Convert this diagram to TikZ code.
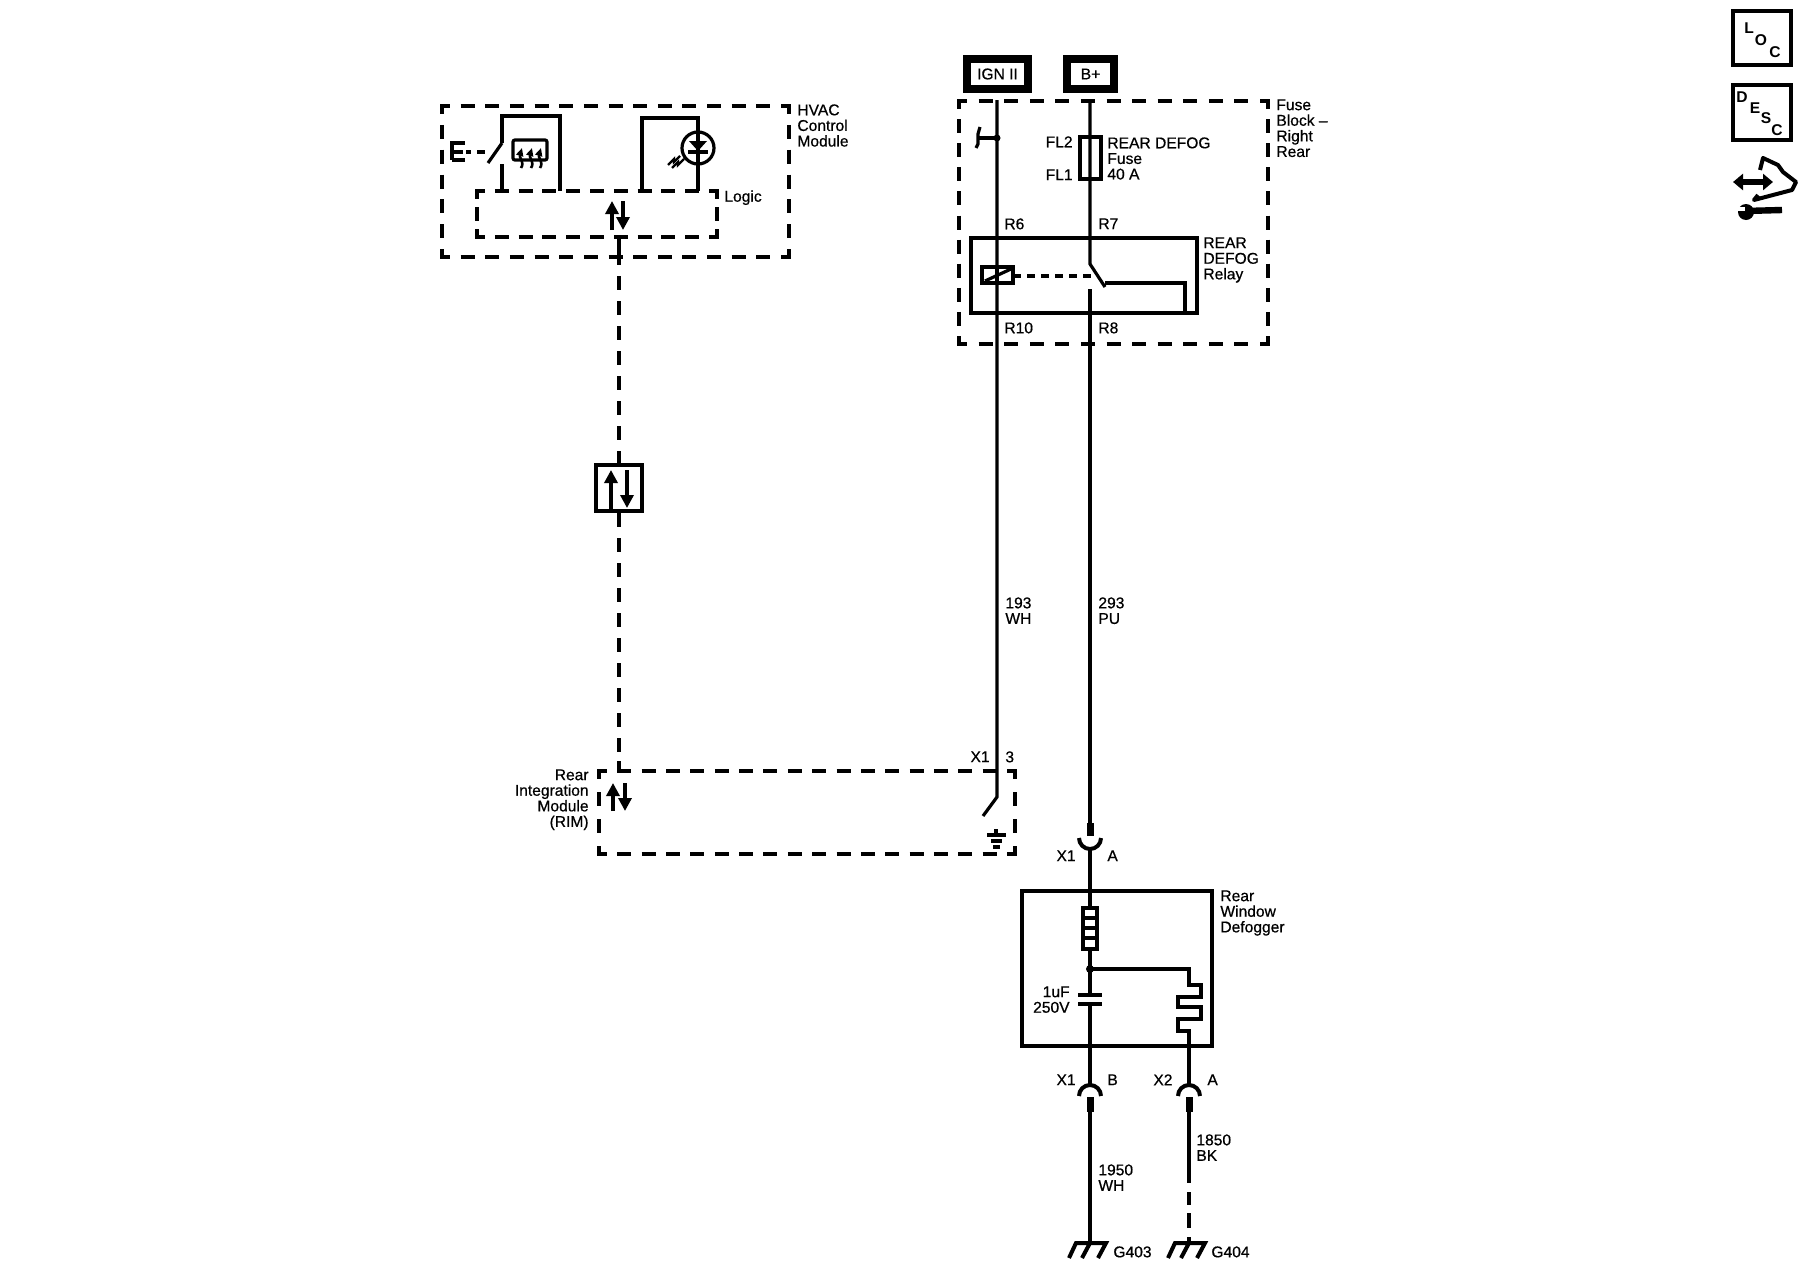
\documentclass[tikz,border=0pt]{standalone}
\usepackage{fontspec}
\setmainfont{Liberation Sans}
\newfontfamily\lblfont[FakeBold=0.6]{Liberation Sans}
\usetikzlibrary{arrows.meta}
% one side of a dashed box, with a short leg at each corner
\newcommand{\dashside}[4]{%
  \pgfmathsetmacro{\sidelen}{veclen((#3)-(#1),(#4)-(#2))}
  \pgfmathsetmacro{\sidegap}{(\sidelen-6)/round((\sidelen-6)/25)/2-7}
  \draw[line width=2pt,dash pattern=on 7pt off \sidegap pt,dash phase=2pt] (#1,#2) -- (#3,#4);}
\newcommand{\modbox}[4]{%
  \dashside{#1-2}{#2}{#3+2}{#2}
  \dashside{#1-2}{#4}{#3+2}{#4}
  \dashside{#1}{#2-2}{#1}{#4+2}
  \dashside{#3}{#2-2}{#3}{#4+2}}
\begin{document}
\begin{tikzpicture}[x=0.5pt,y=-0.5pt,line join=miter,
    wire/.style={line width=1.6pt},
    fatwire/.style={line width=2pt},
    pinstub/.style={line width=3.5pt},
    buswire/.style={line width=2pt,dash pattern=on 7pt off 5.5pt},
    tagbox/.style={draw,line width=4pt,minimum width=30.5pt,minimum height=15pt,inner sep=0pt,fill=white,font=\lblfont\fontsize{7.8}{7.8}\selectfont},
    lbl/.style={anchor=north west,inner sep=0pt,align=left,font=\lblfont\fontsize{7.8}{7.8}\selectfont},
    rlbl/.style={anchor=north east,inner sep=0pt,align=right,font=\lblfont\fontsize{7.8}{7.8}\selectfont},
    iconlbl/.style={inner sep=0pt,font=\bfseries\fontsize{7.8}{7.8}\selectfont},
    uparr/.style={-{Triangle[length=6.5pt,width=6.5pt]},line width=2pt},
    smallarr/.style={-{Triangle[length=4pt,width=3.5pt]},line width=1.3pt}]
  \useasboundingbox (0,0) rectangle (1800,1280);

  % HVAC module
  \modbox{442}{106}{789}{257}
  \modbox{477}{191}{717}{237}
  \draw[wire] (502,143) -- (502,116) -- (560,116) -- (560,191);
  \draw[wire] (502,143) -- (488,163);
  \draw[wire] (502,164) -- (502,191);
  \draw[fatwire] (452,160) -- (452,143) -- (465,143) (452,152) -- (463,152) (452,160) -- (465,160);
  \draw[fatwire] (466,152) -- (471,152) (477,152) -- (485,152);
  \draw[wire,rounded corners=1pt] (513,140) rectangle (547,160);
  \foreach \hx in {522,532,541}
    \draw[smallarr] (\hx-1,168) .. controls (\hx+3,162) and (\hx-3,158) .. (\hx,148);
  \draw[wire] (642,191) -- (642,118) -- (698,118) -- (698,191);
  \draw[wire,fill=white] (698,148) circle[radius=16];
  \draw[wire] (698,132) -- (698,164);
  \fill (689,141) -- (707,141) -- (698,151) -- cycle;
  \draw[line width=2pt] (688,152) -- (708,152);
  \draw[line width=1.2pt] (672,168) -- (678,162) -- (678,165) -- (684,159);
  \draw[line width=1.2pt] (668,165) -- (674,159) -- (674,162) -- (680,156);
  \draw[uparr] (612,230) -- (612,201);
  \draw[uparr] (623,201) -- (623,230);

  % bus
  \node[draw,line width=2.2pt,minimum width=23pt,minimum height=23pt,inner sep=0pt] (comm) at (619,488) {};
  \coordinate (logicout) at (619,237);
  \coordinate (rimin) at (619,772);
  \draw[line width=2pt] (logicout) -- (619,265);
  \draw[buswire] (619,276) -- (comm.north);
  \draw[buswire] (comm.south) -- (rimin);
  \draw[line width=2pt] (619,463) -- (619,455) (619,513) -- (619,521) (619,761) -- (rimin);
  \draw[uparr] (611,509) -- (611,470);
  \draw[uparr] (627,470) -- (627,508);

  % rear integration module
  \modbox{599}{771}{1015}{854}
  \draw[uparr] (613,811) -- (613,783);
  \draw[uparr] (625,783) -- (625,811);

  % fuse block
  \node[tagbox] (ign) at (997.5,74) {IGN II};
  \node[tagbox,minimum width=23.5pt] (bplus) at (1090.5,74) {B+};
  \modbox{959}{101}{1268}{344}
  \coordinate (ignin) at (997,100);
  \coordinate (bin) at (1090,100);
  \coordinate (rimsw) at (997,797);
  \draw[wire] (ignin) -- (rimsw) -- (983,816);
  \draw[wire] (bin) -- (1090,264) -- (1105,287);
  \draw[wire] (997,138) -- (978,138);
  \draw[wire] (980,127) -- (978,134) -- (978,144) -- (976,148);
  \fill (997,138) circle[radius=3.5];
  \draw[wire] (1080,137) rectangle (1101,179);
  \draw[wire] (971,238) rectangle (1197,313);
  \draw[wire,fill=white] (982,267) rectangle (1013,283);
  \draw[wire] (997,267) -- (997,283);
  \draw[wire] (985,281) -- (1011,269);
  \draw[line width=2pt,dash pattern=on 4pt off 3pt] (1013,276) -- (1095,276);
  \draw[wire] (1105,283) -- (1185,283) -- (1185,313);
  \coordinate (bout) at (1090,289);
  \coordinate (xoneA) at (1090,836);
  \draw[wire] (bout) -- (xoneA);
  \draw[pinstub] (1090,823) -- (xoneA);

  % ground in RIM
  \draw[wire] (996,829) -- (996,835);
  \draw[wire] (987,835) -- (1006,835);
  \draw[wire] (991,841) -- (1002,841);
  \draw[fatwire] (993,847) -- (1000,847);

  % defogger
  \draw[fatwire] (1079,838) arc[start angle=180,end angle=0,radius=11];
  \draw[wire] (1090,849) -- (1090,969);
  \draw[wire] (1022,891) rectangle (1212,1046);
  \draw[wire,fill=white] (1083,908) rectangle (1097,949);
  \foreach \ry in {918,928,938}
    \draw[wire] (1083,\ry) -- (1097,\ry);
  \fill (1090,969) circle[radius=4];
  \draw[wire] (1090,969) -- (1189,969) -- (1189,985) -- (1201,985) -- (1201,997) -- (1178,997)
     -- (1178,1007) -- (1201,1007) -- (1201,1019) -- (1178,1019) -- (1178,1031) -- (1189,1031) -- (1189,1046);
  \draw[wire] (1090,969) -- (1090,995) (1090,1004) -- (1090,1085);
  \draw[wire] (1078,995) -- (1102,995) (1078,1004) -- (1102,1004);

  % lower connectors and grounds
  \draw[fatwire] (1079,1096) arc[start angle=180,end angle=360,radius=11];
  \draw[fatwire] (1178,1096) arc[start angle=180,end angle=360,radius=11];
  \draw[fatwire] (1189,1046) -- (1189,1085);
  \draw[pinstub] (1090,1097) -- (1090,1112);
  \draw[pinstub] (1189,1097) -- (1189,1112);
  \draw[wire] (1090,1112) -- (1090,1243);
  \draw[fatwire] (1189,1112) -- (1189,1183);
  \draw[fatwire] (1189,1192) -- (1189,1205) (1189,1213) -- (1189,1228) (1189,1237) -- (1189,1243);
  \draw[fatwire] (1069,1258) -- (1076,1243) -- (1106,1243) -- (1098,1258) (1090,1243) -- (1082,1258);
  \draw[fatwire] (1168,1258) -- (1175,1243) -- (1205,1243) -- (1197,1258) (1189,1243) -- (1181,1258);

  % labels
  \node[lbl] (hvaclbl) at (797,104) {HVAC\\Control\\Module};
  \node[lbl] (logiclbl) at (724,190) {Logic};
  \node[lbl] (fblbl) at (1276,99) {Fuse\\Block –\\Right\\Rear};
  \node[rlbl] (fltwo) at (1073,136) {FL2};
  \node[rlbl] (flone) at (1073,169) {FL1};
  \node[lbl] (fuselbl) at (1107,137) {REAR DEFOG\\Fuse\\40 A};
  \node[lbl] (rsix) at (1004,218) {R6};
  \node[lbl] (rseven) at (1098,218) {R7};
  \node[lbl] (relaylbl) at (1203,237) {REAR\\DEFOG\\Relay};
  \node[lbl] (rten) at (1004,322) {R10};
  \node[lbl] (reight) at (1098,322) {R8};
  \node[lbl] (wireign) at (1005,597) {193\\WH};
  \node[lbl] (wireb) at (1098,597) {293\\PU};
  \node[rlbl] (xonetop) at (990,751) {X1};
  \node[lbl] (pinthree) at (1005,751) {3};
  \node[rlbl] (rimlbl) at (589,769) {Rear\\Integration\\Module\\(RIM)};
  \node[rlbl] (xonea) at (1076,850) {X1};
  \node[lbl] (pina) at (1107,850) {A};
  \node[lbl] (deflbl) at (1220,890) {Rear\\Window\\Defogger};
  \node[rlbl] (caplbl) at (1070,986) {1uF\\250V};
  \node[rlbl] (xoneb) at (1076,1074) {X1};
  \node[lbl] (pinb) at (1107,1074) {B};
  \node[lbl] (xtwo) at (1153,1074) {X2};
  \node[lbl] (pinatwo) at (1207,1074) {A};
  \node[lbl] (wirebk) at (1196,1134) {1850\\BK};
  \node[lbl] (wirewh) at (1098,1164) {1950\\WH};
  \node[lbl] (gone) at (1113,1246) {G403};
  \node[lbl] (gtwo) at (1211,1246) {G404};

  % side icons
  \draw[fatwire] (1733,11) rectangle (1791,65);
  \node[iconlbl] (locl) at (1749,28) {L};
  \node[iconlbl] (loco) at (1761,40) {O};
  \node[iconlbl] (locc) at (1775,52) {C};
  \draw[fatwire] (1733,85) rectangle (1791,140);
  \node[iconlbl] (descd) at (1742,97) {D};
  \node[iconlbl] (desce) at (1755,108) {E};
  \node[iconlbl] (descs) at (1766,118) {S};
  \node[iconlbl] (descc) at (1777,130) {C};
  \draw[line width=3pt,{Triangle[length=5pt,width=8pt]}-{Triangle[length=5pt,width=8pt]}] (1733,182) -- (1773,182);
  \draw[line width=2pt,line join=round] (1760,170) -- (1763,158) -- (1778,165) -- (1783,172) -- (1796,182) -- (1792,190) -- (1773,195) -- (1754,200) -- (1758,195);
  \draw[line width=3.2pt] (1745,211) -- (1782,210);
  \fill (1746,212) circle[radius=8];
  \fill[white] (1737,207) rectangle (1745,211);
\end{tikzpicture}
\end{document}
